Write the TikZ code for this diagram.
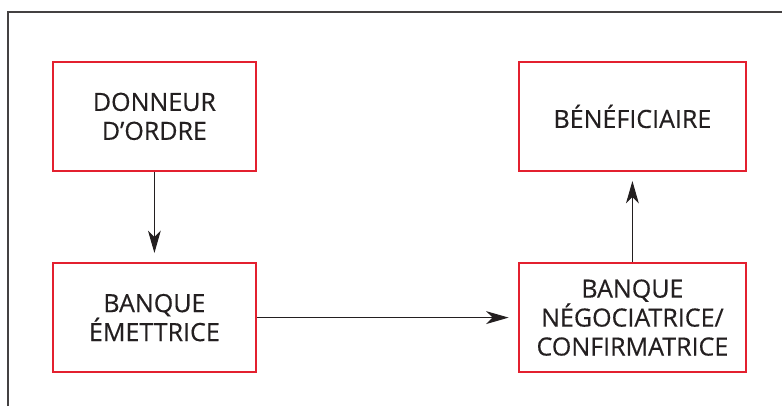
\documentclass[tikz,border=0pt]{standalone}
\usepackage{fontspec}
\setmainfont{Open Sans}
\usepackage{xcolor}
\usetikzlibrary{arrows.meta}
\definecolor{cadre}{HTML}{E3202F}
\definecolor{trait}{HTML}{231F20}

\begin{document}
\begin{tikzpicture}[font=\fontsize{17.8}{20.6}\selectfont\addfontfeature{FakeBold=0.4},
  boite/.style={draw=cadre, line width=1.4pt, minimum height=2.72cm, align=center, text=trait, inner sep=0pt},
  fleche/.style={-{Stealth[length=5.6mm,width=3.2mm,inset=1.6mm]}, draw=trait, line width=0.75pt, shorten >=0.23cm}]
\useasboundingbox (0,0) rectangle (19.55,10.15);
\draw[trait!85, line width=0.8pt] (0.2,0) -- (0.2,9.85) -- (19.55,9.85);

\node[boite, minimum width=5.08cm] (donneur) at (3.86,7.24) {DONNEUR\\D’ORDRE};
\node[boite, minimum width=5.08cm] (emettrice) at (3.86,2.21) {BANQUE\\ÉMETTRICE};
\node[boite, minimum width=5.68cm] (beneficiaire) at (15.81,7.24) {BÉNÉFICIAIRE};
\node[boite, minimum width=5.68cm] (negociatrice) at (15.81,2.21) {BANQUE\\NÉGOCIATRICE/\\CONFIRMATRICE};

\draw[fleche] (donneur) -- (emettrice);
\draw[fleche] (emettrice) -- (negociatrice);
\draw[fleche] (negociatrice) -- (beneficiaire);
\end{tikzpicture}
\end{document}
